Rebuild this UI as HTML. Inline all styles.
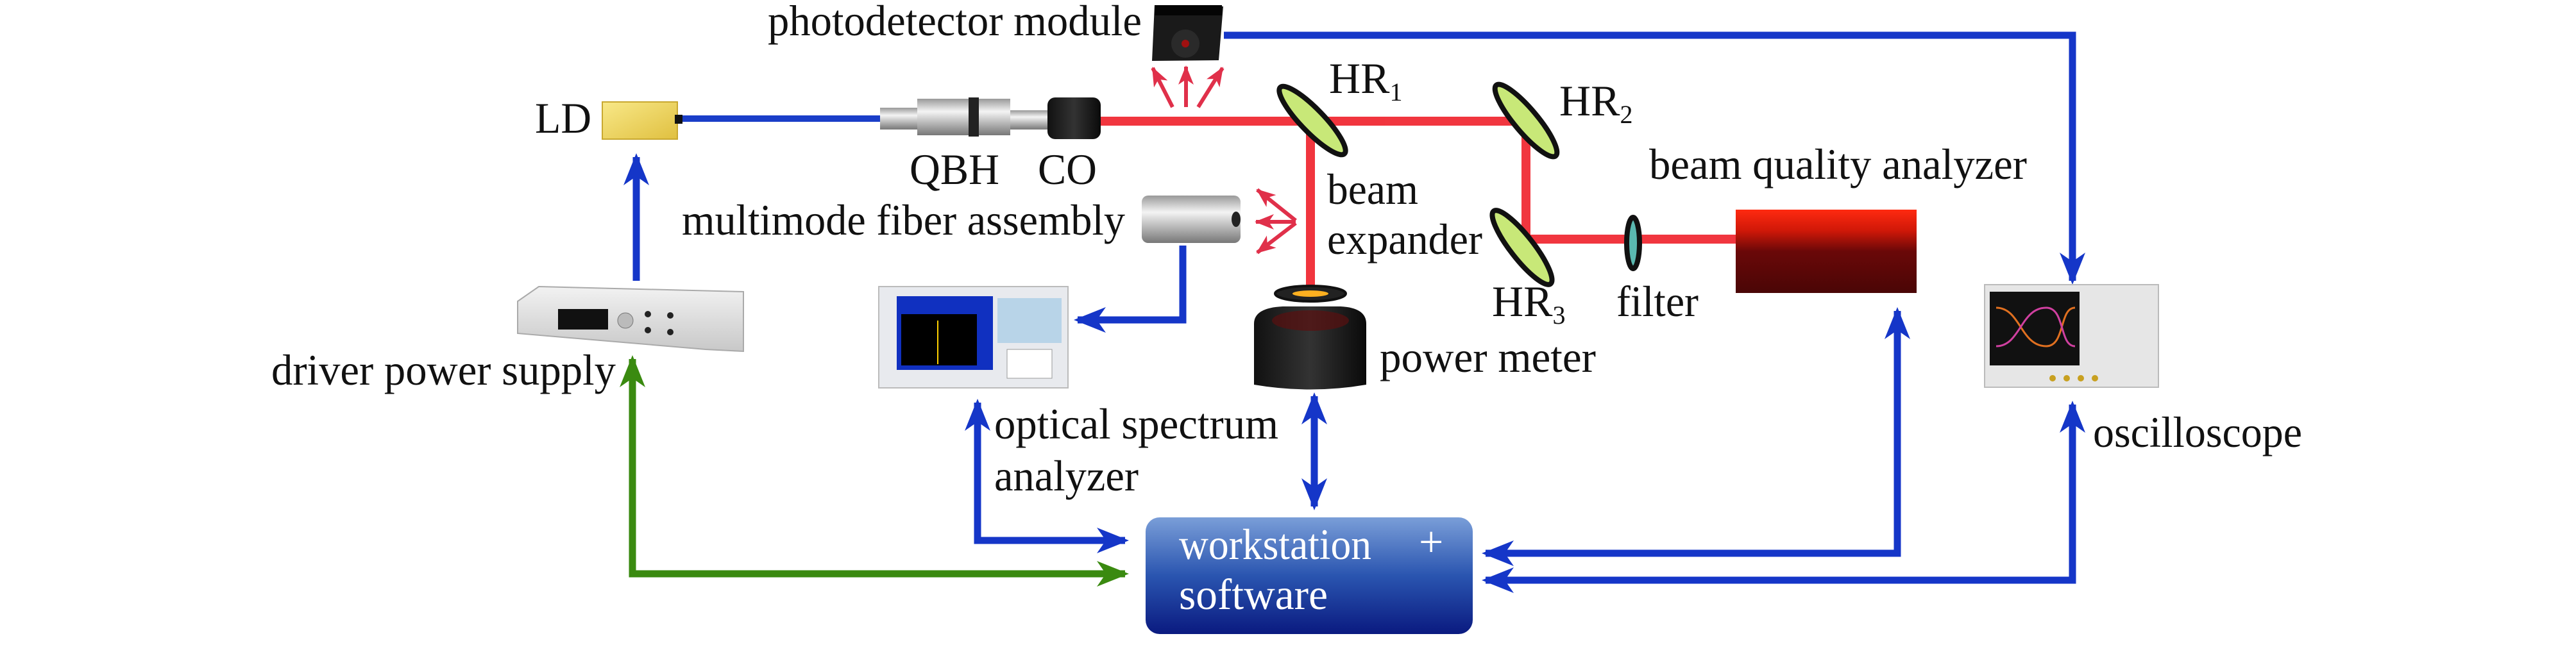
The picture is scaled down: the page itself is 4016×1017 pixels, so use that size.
<!DOCTYPE html>
<html><head><meta charset="utf-8"><style>
html,body{margin:0;padding:0;background:#fff}
svg{display:block}
svg text{font-family:"Liberation Serif","DejaVu Serif",serif}
</style></head><body>
<svg width="4016" height="1017" viewBox="0 0 4016 1017" xmlns="http://www.w3.org/2000/svg" font-family="Liberation Serif, DejaVu Serif, serif">
<defs>
<marker id="ab" viewBox="0 0 50 40" refX="44" refY="20" markerWidth="50" markerHeight="40" markerUnits="userSpaceOnUse" orient="auto-start-reverse">
<path d="M0,0 L50,20 L0,40 L14,20 Z" fill="#1536c8"/></marker>
<marker id="ag" viewBox="0 0 50 40" refX="44" refY="20" markerWidth="50" markerHeight="40" markerUnits="userSpaceOnUse" orient="auto-start-reverse">
<path d="M0,0 L50,20 L0,40 L14,20 Z" fill="#3a8a10"/></marker>
<marker id="ar" viewBox="0 0 30 24" refX="28" refY="12" markerWidth="30" markerHeight="24" markerUnits="userSpaceOnUse" orient="auto">
<path d="M0,0 L30,12 L0,24 L8,12 Z" fill="#e0304a"/></marker>
<linearGradient id="ws" x1="0" y1="0" x2="0" y2="1"><stop offset="0" stop-color="#7a9ed8"/><stop offset="0.5" stop-color="#2a55b0"/><stop offset="1" stop-color="#0a1a80"/></linearGradient>
<linearGradient id="bq" x1="0" y1="0" x2="0" y2="1"><stop offset="0" stop-color="#ff2a10"/><stop offset="0.25" stop-color="#d01808"/><stop offset="0.5" stop-color="#6a0808"/><stop offset="1" stop-color="#4a0606"/></linearGradient>
<linearGradient id="ld" x1="0" y1="0" x2="1" y2="1"><stop offset="0" stop-color="#f8e888"/><stop offset="1" stop-color="#e0c040"/></linearGradient>
<linearGradient id="sil" x1="0" y1="0" x2="0" y2="1"><stop offset="0" stop-color="#999"/><stop offset="0.35" stop-color="#f4f4f4"/><stop offset="1" stop-color="#777"/></linearGradient>
<linearGradient id="blk" x1="0" y1="0" x2="1" y2="0"><stop offset="0" stop-color="#111"/><stop offset="0.5" stop-color="#333"/><stop offset="1" stop-color="#0a0a0a"/></linearGradient>
<linearGradient id="dev" x1="0" y1="0" x2="0" y2="1"><stop offset="0" stop-color="#f2f2f2"/><stop offset="1" stop-color="#c8c8c8"/></linearGradient>
</defs>

<g stroke="#1536c8" stroke-width="11" fill="none">
<polyline points="1908,55 3231,55 3231,438" marker-end="url(#ab)"/>
<line x1="992" y1="438" x2="992" y2="245" marker-end="url(#ab)"/>
<polyline points="1844,383 1844,499 1680,499" marker-end="url(#ab)"/>
<polyline points="1754,843 1524,843 1524,628" marker-start="url(#ab)" marker-end="url(#ab)"/>
<line x1="2049" y1="618" x2="2049" y2="790" marker-start="url(#ab)" marker-end="url(#ab)"/>
<polyline points="2958,485 2958,863 2316,863" marker-start="url(#ab)" marker-end="url(#ab)"/>
<polyline points="3231,631 3231,905 2316,905" marker-start="url(#ab)" marker-end="url(#ab)"/>
<line x1="1056" y1="185" x2="1372" y2="185" stroke-width="10" stroke="#1a3ec8"/>
</g>
<polyline points="1754,895 986,895 986,560" stroke="#3a8a10" stroke-width="11" fill="none" marker-start="url(#ag)" marker-end="url(#ag)"/>

<g stroke="#f0202a" stroke-width="14" fill="none" opacity="0.9">
<polyline points="1716,189 2379,189 2379,373 2706,373"/>
<line x1="2043" y1="189" x2="2043" y2="452"/>
</g>
<g stroke="#e0304a" stroke-width="6" fill="none">
<line x1="1828" y1="167" x2="1797" y2="106" marker-end="url(#ar)"/>
<line x1="1849" y1="167" x2="1849" y2="104" marker-end="url(#ar)"/>
<line x1="1868" y1="167" x2="1906" y2="106" marker-end="url(#ar)"/>
<line x1="2020" y1="344" x2="1960" y2="296" marker-end="url(#ar)"/>
<line x1="2020" y1="346" x2="1958" y2="346" marker-end="url(#ar)"/>
<line x1="2020" y1="348" x2="1960" y2="394" marker-end="url(#ar)"/>
</g>

<path d="M1800,8 L1907,10 L1900,94 L1796,95 Z" fill="#1a1a1a"/>
<rect x="1800" y="8" width="105" height="16" fill="#050505"/>
<circle cx="1848" cy="68" r="22" fill="#2a2a2a"/><circle cx="1848" cy="68" r="6" fill="#a01010"/>

<rect x="939" y="159" width="117" height="58" fill="url(#ld)" stroke="#c8a830" stroke-width="2"/>
<rect x="1052" y="179" width="12" height="14" fill="#111"/>
<rect x="1372" y="168" width="70" height="34" fill="url(#sil)"/>
<rect x="1430" y="154" width="145" height="57" fill="url(#sil)"/>
<rect x="1510" y="152" width="16" height="61" fill="#222"/>
<rect x="1575" y="172" width="58" height="30" fill="url(#sil)"/>
<rect x="1633" y="152" width="83" height="65" rx="12" fill="url(#blk)"/>

<g fill="#c8e878" stroke="#111" stroke-width="8">
<ellipse cx="2046" cy="188" rx="72" ry="18" transform="rotate(46 2046 188)"/>
<ellipse cx="2379" cy="188" rx="72" ry="18" transform="rotate(50 2379 188)"/>
<ellipse cx="2373" cy="386" rx="72" ry="18" transform="rotate(52 2373 386)"/>
<ellipse cx="2546" cy="379" rx="10" ry="40" fill="#5ab8b0"/>
</g>
<rect x="2706" y="327" width="282" height="130" fill="url(#bq)"/>

<rect x="1780" y="305" width="154" height="74" rx="10" fill="url(#sil)"/>
<ellipse cx="1927" cy="342" rx="7" ry="12" fill="#222"/>

<ellipse cx="2043" cy="458" rx="55" ry="12" fill="#222" stroke="#111" stroke-width="4"/>
<ellipse cx="2043" cy="458" rx="28" ry="5" fill="#ffb020"/>
<path d="M1955,505 Q1955,480 2000,478 L2090,478 Q2130,480 2130,505 L2130,600 Q2043,615 1955,600 Z" fill="url(#blk)"/>
<ellipse cx="2043" cy="500" rx="60" ry="16" fill="#5a1010" opacity="0.7"/>

<path d="M807,470 L840,447 L1159,455 L1159,548 L1100,545 L807,520 Z" fill="url(#dev)" stroke="#aaa" stroke-width="2"/>
<rect x="870" y="482" width="78" height="32" fill="#111"/>
<circle cx="975" cy="500" r="12" fill="#bbb" stroke="#777"/>
<g fill="#222"><circle cx="1010" cy="490" r="5"/><circle cx="1045" cy="492" r="5"/><circle cx="1010" cy="515" r="5"/><circle cx="1045" cy="518" r="5"/></g>

<rect x="1370" y="447" width="295" height="158" fill="#e8eaee" stroke="#bbb" stroke-width="2"/>
<rect x="1398" y="462" width="150" height="115" fill="#1030c0"/>
<rect x="1405" y="490" width="118" height="80" fill="#000"/>
<line x1="1462" y1="500" x2="1462" y2="568" stroke="#ffd000" stroke-width="2"/>
<rect x="1555" y="465" width="100" height="70" fill="#b8d4e8"/>
<rect x="1570" y="545" width="70" height="45" fill="#fff" stroke="#999"/>

<rect x="3094" y="444" width="271" height="160" fill="#e6e6e6" stroke="#bbb" stroke-width="2"/>
<rect x="3102" y="455" width="140" height="115" fill="#111"/>
<path d="M3112,480 C3150,480 3150,540 3190,540 C3220,540 3210,480 3235,480" stroke="#e07020" stroke-width="3" fill="none"/>
<path d="M3112,540 C3150,540 3150,480 3190,480 C3220,480 3210,540 3235,540" stroke="#d040a0" stroke-width="3" fill="none"/>
<g fill="#c8a020"><circle cx="3200" cy="590" r="5"/><circle cx="3222" cy="590" r="5"/><circle cx="3244" cy="590" r="5"/><circle cx="3266" cy="590" r="5"/></g>

<rect x="1786" y="807" width="510" height="182" rx="22" fill="url(#ws)"/>
<g font-size="68" fill="#fff">
<text x="1838" y="872" textLength="300" lengthAdjust="spacingAndGlyphs">workstation</text>
<text x="2212" y="868">+</text>
<text x="1838" y="950" textLength="232" lengthAdjust="spacingAndGlyphs">software</text>
</g>

<g font-size="68" fill="#111">
<text x="1197" y="55" textLength="583" lengthAdjust="spacingAndGlyphs">photodetector module</text>
<text x="834" y="207" textLength="88" lengthAdjust="spacingAndGlyphs">LD</text>
<text x="1418" y="287" textLength="140" lengthAdjust="spacingAndGlyphs">QBH</text>
<text x="1618" y="287" textLength="92" lengthAdjust="spacingAndGlyphs">CO</text>
<text x="1063" y="366" textLength="691" lengthAdjust="spacingAndGlyphs">multimode fiber assembly</text>
<text x="423" y="600" textLength="537" lengthAdjust="spacingAndGlyphs">driver power supply</text>
<text x="1550" y="684" textLength="443" lengthAdjust="spacingAndGlyphs">optical spectrum</text>
<text x="1550" y="765" textLength="225" lengthAdjust="spacingAndGlyphs">analyzer</text>
<text x="2072" y="145">HR<tspan font-size="40" dy="12">1</tspan></text>
<text x="2431" y="180">HR<tspan font-size="40" dy="12">2</tspan></text>
<text x="2326" y="493">HR<tspan font-size="40" dy="12">3</tspan></text>
<text x="2069" y="318" textLength="142" lengthAdjust="spacingAndGlyphs">beam</text>
<text x="2069" y="396" textLength="242" lengthAdjust="spacingAndGlyphs">expander</text>
<text x="2520" y="493" textLength="128" lengthAdjust="spacingAndGlyphs">filter</text>
<text x="2571" y="279" textLength="589" lengthAdjust="spacingAndGlyphs">beam quality analyzer</text>
<text x="2151" y="580" textLength="337" lengthAdjust="spacingAndGlyphs">power meter</text>
<text x="3263" y="697" textLength="326" lengthAdjust="spacingAndGlyphs">oscilloscope</text>
</g>
</svg>
</body></html>
